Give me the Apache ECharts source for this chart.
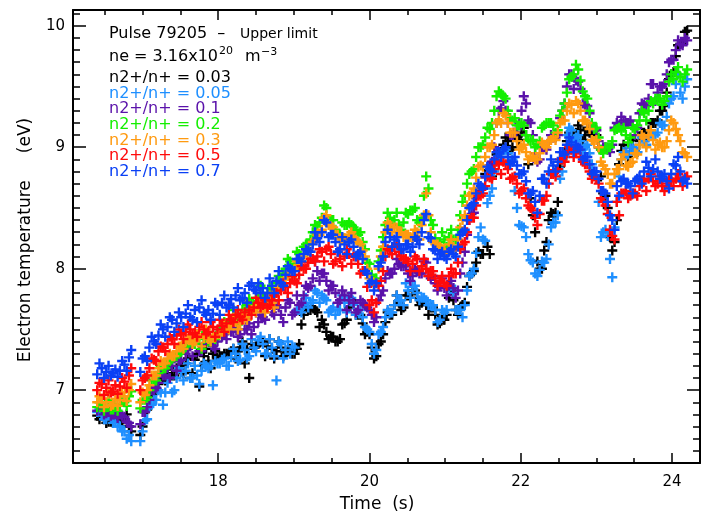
<!DOCTYPE html>
<html>
<head>
<meta charset="utf-8">
<script src="https://cdn.jsdelivr.net/npm/echarts@6/dist/echarts.min.js"></script>
<style>
  html, body { margin: 0; padding: 0; background: #fff; }
  #chart { width: 703px; height: 519px; }
</style>
</head>
<body>
<div id="chart"></div>
<script>
  // time base of sweep 1 (s)
  const times = [
    16.40, 16.46, 16.52, 16.58, 16.64, 16.70, 16.76, 16.82,
    16.97, 17.03, 17.09, 17.15, 17.21, 17.27, 17.33, 17.39, 17.45, 17.51,
    17.57, 17.63, 17.69, 17.75, 17.81, 17.87, 17.93, 17.99, 18.05, 18.11,
    18.17, 18.23, 18.29, 18.35, 18.41, 18.47, 18.53, 18.59, 18.65, 18.71,
    18.77, 18.83, 18.89, 18.95, 19.01, 19.07, 19.13, 19.19, 19.25, 19.31,
    19.37, 19.43, 19.49, 19.55, 19.61, 19.67, 19.73, 19.79, 19.85, 19.91,
    19.97, 20.03, 20.09, 20.15, 20.21, 20.27, 20.33, 20.39, 20.45, 20.51,
    20.57, 20.63, 20.69, 20.75, 20.81, 20.87, 20.93, 20.99, 21.05, 21.11,
    21.17, 21.23, 21.29, 21.35, 21.41, 21.47, 21.53, 21.59, 21.65, 21.71,
    21.77, 21.83, 21.89, 21.95, 22.01, 22.07, 22.13, 22.19, 22.25, 22.31,
    22.37, 22.43, 22.49, 22.55, 22.61, 22.67, 22.73, 22.79, 22.85, 22.91,
    22.97, 23.03, 23.09, 23.15, 23.21, 23.27, 23.33, 23.39, 23.45, 23.51,
    23.57, 23.63, 23.69, 23.75, 23.81, 23.87, 23.93, 23.99, 24.05, 24.11,
    24.17
  ];
  // time base of sweep 2 (s)
  const timesB = [
    16.43, 16.49, 16.55, 16.61, 16.67, 16.73, 16.79, 16.85,
    17.00, 17.06, 17.12, 17.18, 17.24, 17.30, 17.36, 17.42, 17.48, 17.54,
    17.60, 17.66, 17.72, 17.78, 17.84, 17.90, 17.96, 18.02, 18.08, 18.14,
    18.20, 18.26, 18.32, 18.38, 18.44, 18.50, 18.56, 18.62, 18.68, 18.74,
    18.80, 18.86, 18.92, 18.98, 19.04, 19.10, 19.16, 19.22, 19.28, 19.34,
    19.40, 19.46, 19.52, 19.58, 19.64, 19.70, 19.76, 19.82, 19.88, 19.94,
    20.00, 20.06, 20.12, 20.18, 20.24, 20.30, 20.36, 20.42, 20.48, 20.54,
    20.60, 20.66, 20.72, 20.78, 20.84, 20.90, 20.96, 21.02, 21.08, 21.14,
    21.20, 21.26, 21.32, 21.38, 21.44, 21.50, 21.56, 21.62, 21.68, 21.74,
    21.80, 21.86, 21.92, 21.98, 22.04, 22.10, 22.16, 22.22, 22.28, 22.34,
    22.40, 22.46, 22.52, 22.58, 22.64, 22.70, 22.76, 22.82, 22.88, 22.94,
    23.00, 23.06, 23.12, 23.18, 23.24, 23.30, 23.36, 23.42, 23.48, 23.54,
    23.60, 23.66, 23.72, 23.78, 23.84, 23.90, 23.96, 24.02, 24.08, 24.14,
    24.20
  ];

  // n2+/n+ ratios (legend)
  const ratios = ['0.03', '0.05', '0.1', '0.2', '0.3', '0.5', '0.7'];

  // electron temperature (eV), sweep 1
  const te003 = [
    6.79, 6.80, 6.73, 6.74, 6.77, 6.75, 6.76, 6.70,
    6.63, 6.82, 6.92, 6.98, 7.05, 7.10, 7.14, 7.12, 7.18, 7.20,
    7.22, 7.10, 7.25, 7.03, 7.28, 7.24, 7.30, 7.26, 7.28, 7.30,
    7.32, 7.26, 7.35, 7.22, 7.10, 7.35, 7.38, 7.40, 7.36, 7.34,
    7.32, 7.35, 7.30, 7.34, 7.30, 7.38, 7.62, 7.66, 7.68, 7.64,
    7.58, 7.48, 7.44, 7.40, 7.42, 7.55, 7.68, 7.72, 7.62, 7.55,
    7.48, 7.35, 7.28, 7.40, 7.56, 7.62, 7.70, 7.72, 7.68, 7.78,
    7.82, 7.76, 7.72, 7.70, 7.68, 7.62, 7.55, 7.58, 7.76, 7.74,
    7.62, 7.70, 7.85, 7.96, 8.05, 8.12, 8.78, 8.12, 8.82, 8.95,
    9.02, 9.05, 9.00, 9.08, 9.12, 9.10, 8.58, 8.30, 8.00, 8.15,
    8.40, 8.45, 8.55, 8.90, 9.05, 9.10, 9.12, 9.14, 9.10, 9.12,
    9.14, 9.00, 8.62, 8.50, 8.15, 8.40, 8.97, 8.95, 9.00, 8.98,
    9.05, 9.12, 9.14, 9.20, 9.22, 9.30, 9.45, 9.60, 9.75, 9.85,
    9.95
  ];
  const te005 = [
    6.82, 6.79, 6.76, 6.78, 6.74, 6.70, 6.66, 6.63,
    6.58, 6.75, 6.86, 6.92, 7.00, 6.88, 7.06, 6.98, 7.10, 7.15,
    7.16, 7.10, 7.20, 7.05, 7.22, 7.18, 7.04, 7.22, 7.25, 7.20,
    7.27, 7.30, 7.25, 7.33, 7.28, 7.35, 7.41, 7.38, 7.30, 7.35,
    7.08, 7.38, 7.33, 7.30, 7.35, 7.66, 7.70, 7.68, 7.74, 7.80,
    7.78, 7.74, 7.66, 7.62, 7.66, 7.72, 7.77, 7.70, 7.66, 7.60,
    7.50, 7.38, 7.33, 7.48, 7.60, 7.64, 7.70, 7.74, 7.70, 7.82,
    7.85, 7.80, 7.76, 7.74, 7.70, 7.66, 7.58, 7.64, 7.85, 7.80,
    7.66, 7.60, 7.82, 7.96, 8.13, 8.34, 8.23, 8.60, 8.80, 8.92,
    8.98, 8.95, 8.90, 8.50, 8.35, 8.26, 8.07, 7.96, 7.99, 8.05,
    8.20, 8.38, 8.44, 8.80, 9.10, 9.14, 9.08, 9.05, 9.00, 8.95,
    8.80, 8.55, 8.30, 8.27, 7.93, 8.55, 8.90, 8.95, 9.00, 8.98,
    9.02, 9.05, 9.08, 9.10, 9.12, 9.18, 9.25, 9.40, 9.52, 9.45,
    9.50
  ];
  const te01 = [
    6.83, 6.85, 6.81, 6.79, 6.81, 6.80, 6.78, 6.73,
    6.72, 6.82, 6.92, 7.00, 7.06, 7.12, 7.18, 7.20, 7.16, 7.25,
    7.30, 7.36, 7.40, 7.32, 7.38, 7.42, 7.36, 7.40, 7.44, 7.42,
    7.48, 7.52, 7.46, 7.50, 7.55, 7.52, 7.56, 7.60, 7.68, 7.64,
    7.70, 7.62, 7.68, 7.72, 7.64, 7.70, 7.78, 7.84, 7.92, 7.98,
    7.96, 7.90, 7.86, 7.80, 7.74, 7.78, 7.74, 7.72, 7.66, 7.72,
    7.68, 7.62, 7.60, 7.78, 7.92, 7.96, 8.00, 8.04, 8.02, 7.96,
    7.94, 7.98, 7.96, 8.05, 7.92, 7.88, 7.86, 7.84, 7.86, 7.84,
    7.82, 8.05, 8.28, 8.45, 8.58, 8.65, 8.75, 8.85, 9.00, 9.30,
    9.38, 9.20, 9.10, 9.15, 9.30, 9.36, 9.20, 8.95, 8.90, 9.00,
    9.05, 9.08, 9.10, 9.30, 9.50, 9.60, 9.55, 9.48, 9.35, 9.28,
    9.15, 9.05, 9.00, 8.98, 9.02, 9.20, 9.25, 9.20, 9.22, 9.10,
    9.28, 9.35, 9.40, 9.52, 9.45, 9.50, 9.60, 9.72, 9.80, 9.85,
    9.90
  ];
  const te02 = [
    6.86, 6.89, 6.86, 6.84, 6.88, 6.88, 6.90, 6.95,
    6.85, 6.92, 7.00, 7.08, 7.14, 7.18, 7.22, 7.26, 7.28, 7.32,
    7.36, 7.40, 7.38, 7.43, 7.42, 7.40, 7.44, 7.46, 7.50, 7.55,
    7.58, 7.60, 7.58, 7.65, 7.75, 7.70, 7.76, 7.80, 7.76, 7.82,
    7.88, 7.92, 8.00, 8.06, 8.04, 8.12, 8.18, 8.20, 8.30, 8.35,
    8.42, 8.50, 8.40, 8.32, 8.28, 8.36, 8.38, 8.34, 8.28, 8.22,
    8.05, 7.95, 7.92, 8.15, 8.36, 8.42, 8.40, 8.36, 8.38, 8.45,
    8.48, 8.40, 8.42, 8.76, 8.40, 8.25, 8.22, 8.24, 8.26, 8.24,
    8.32, 8.55, 8.70, 8.80, 8.92, 9.00, 9.08, 9.15, 9.30, 9.46,
    9.42, 9.30, 9.22, 9.18, 9.20, 9.10, 9.05, 9.00, 9.05, 9.18,
    9.20, 9.18, 9.14, 9.30, 9.45, 9.58, 9.68, 9.55, 9.42, 9.30,
    9.15, 9.08, 8.95, 9.00, 9.05, 9.15, 9.14, 9.10, 9.08, 9.15,
    9.22, 9.28, 9.30, 9.36, 9.40, 9.35, 9.42, 9.60, 9.62, 9.58,
    9.60
  ];
  const te03 = [
    6.90, 6.93, 6.90, 6.87, 6.93, 6.92, 6.95, 7.00,
    6.90, 6.96, 7.04, 7.12, 7.18, 7.22, 7.26, 7.28, 7.32, 7.36,
    7.40, 7.42, 7.40, 7.45, 7.43, 7.42, 7.45, 7.46, 7.48, 7.52,
    7.54, 7.56, 7.55, 7.60, 7.63, 7.66, 7.70, 7.68, 7.67, 7.72,
    7.82, 7.85, 7.92, 7.98, 8.00, 8.06, 8.10, 8.15, 8.22, 8.28,
    8.32, 8.44, 8.35, 8.28, 8.22, 8.25, 8.28, 8.26, 8.22, 8.15,
    8.00, 7.90, 7.88, 8.10, 8.30, 8.36, 8.34, 8.30, 8.26, 8.28,
    8.25, 8.30, 8.36, 8.62, 8.30, 8.20, 8.18, 8.16, 8.20, 8.18,
    8.24, 8.40, 8.52, 8.62, 8.75, 8.85, 8.92, 9.00, 9.10, 9.22,
    9.28, 9.20, 9.12, 9.05, 9.00, 8.96, 8.92, 8.90, 8.95, 9.02,
    9.05, 9.08, 9.12, 9.22, 9.30, 9.35, 9.38, 9.30, 9.22, 9.15,
    9.05, 9.00, 8.85, 8.78, 8.70, 8.82, 8.90, 8.85, 8.87, 8.95,
    9.02, 9.08, 9.10, 9.06, 9.02, 9.00, 9.05, 9.22, 9.15, 9.05,
    8.95
  ];
  const te05 = [
    7.00, 7.05, 7.02, 6.98, 7.04, 7.03, 7.07, 7.12,
    7.00, 7.10, 7.18, 7.25, 7.32, 7.35, 7.38, 7.42, 7.45, 7.46,
    7.48, 7.50, 7.47, 7.52, 7.50, 7.48, 7.52, 7.50, 7.53, 7.55,
    7.58, 7.62, 7.60, 7.64, 7.66, 7.68, 7.72, 7.70, 7.68, 7.74,
    7.80, 7.82, 7.85, 7.88, 7.90, 7.95, 8.00, 8.05, 8.08, 8.10,
    8.14, 8.16, 8.12, 8.06, 8.08, 8.10, 8.12, 8.10, 8.04, 7.98,
    7.85, 7.74, 7.72, 7.90, 8.10, 8.15, 8.18, 8.14, 8.08, 8.06,
    8.04, 8.08, 8.02, 8.00, 7.98, 7.92, 7.90, 7.88, 7.94, 7.96,
    8.05, 8.20, 8.30, 8.42, 8.52, 8.60, 8.68, 8.75, 8.82, 8.86,
    8.88, 8.82, 8.75, 8.70, 8.64, 8.58, 8.50, 8.42, 8.45, 8.56,
    8.70, 8.78, 8.82, 8.90, 8.95, 8.98, 8.96, 8.92, 8.86, 8.80,
    8.76, 8.70, 8.55, 8.45, 8.27, 8.55, 8.62, 8.64, 8.60, 8.62,
    8.68, 8.72, 8.74, 8.72, 8.70, 8.68, 8.70, 8.72, 8.74, 8.72,
    8.75
  ];
  const te07 = [
    7.13, 7.18, 7.15, 7.12, 7.17, 7.16, 7.21, 7.27,
    7.15, 7.28, 7.35, 7.40, 7.45, 7.50, 7.52, 7.58, 7.55, 7.60,
    7.63, 7.60, 7.66, 7.68, 7.64, 7.66, 7.63, 7.70, 7.72, 7.68,
    7.75, 7.78, 7.74, 7.80, 7.86, 7.83, 7.88, 7.84, 7.80, 7.86,
    7.90, 7.88, 7.95, 8.00, 7.98, 8.08, 8.12, 8.15, 8.20, 8.25,
    8.30, 8.38, 8.28, 8.22, 8.16, 8.20, 8.22, 8.18, 8.12, 8.08,
    7.96, 7.90, 7.88, 8.05, 8.22, 8.26, 8.24, 8.20, 8.16, 8.20,
    8.18, 8.24, 8.30, 8.45, 8.25, 8.15, 8.12, 8.10, 8.14, 8.12,
    8.18, 8.30, 8.40, 8.52, 8.62, 8.68, 8.76, 8.82, 8.90, 8.96,
    8.98, 8.92, 8.88, 8.85, 8.78, 8.72, 8.62, 8.55, 8.60, 8.74,
    8.80, 8.85, 8.88, 8.96, 9.02, 9.04, 9.02, 8.98, 8.92, 8.86,
    8.80, 8.74, 8.64, 8.55, 8.40, 8.68, 8.72, 8.70, 8.68, 8.72,
    8.76, 8.80, 8.83, 8.82, 8.80, 8.76, 8.72, 8.78, 8.85, 8.80,
    8.74
  ];

  // electron temperature (eV), sweep 2
  const te003b = [
    6.76, 6.76, 6.74, 6.73, 6.76, 6.70, 6.80, 6.66,
    6.70, 6.84, 6.98, 7.00, 7.12, 7.08, 7.20, 7.12, 7.24, 7.14,
    7.26, 7.14, 7.30, 7.20, 7.34, 7.18, 7.32, 7.28, 7.30, 7.30,
    7.34, 7.32, 7.40, 7.34, 7.38, 7.36, 7.40, 7.28, 7.42, 7.26,
    7.40, 7.28, 7.32, 7.30, 7.34, 7.54, 7.68, 7.66, 7.66, 7.52,
    7.54, 7.42, 7.44, 7.40, 7.54, 7.58, 7.74, 7.62, 7.62, 7.46,
    7.46, 7.26, 7.38, 7.46, 7.64, 7.62, 7.78, 7.66, 7.78, 7.76,
    7.82, 7.70, 7.74, 7.62, 7.68, 7.54, 7.60, 7.62, 7.82, 7.66,
    7.68, 7.72, 7.94, 7.98, 8.14, 8.12, 8.18, 8.76, 8.94, 8.96,
    9.08, 8.98, 9.10, 9.06, 9.16, 8.86, 8.44, 8.06, 8.00, 8.22,
    8.46, 8.46, 8.84, 8.96, 9.12, 9.08, 9.18, 9.06, 9.16, 9.10,
    9.10, 8.76, 8.60, 8.26, 8.22, 8.86, 9.02, 8.92, 9.06, 8.96,
    9.12, 9.10, 9.20, 9.20, 9.30, 9.34, 9.56, 9.62, 9.84, 9.86,
    9.96
  ];
  const te005b = [
    6.84, 6.76, 6.82, 6.73, 6.70, 6.66, 6.60, 6.58,
    6.66, 6.76, 6.88, 6.92, 6.98, 6.98, 7.10, 7.00, 7.18, 7.08,
    7.22, 7.10, 7.12, 7.16, 7.20, 7.20, 7.24, 7.22, 7.26, 7.20,
    7.34, 7.24, 7.38, 7.26, 7.42, 7.32, 7.44, 7.30, 7.42, 7.28,
    7.40, 7.26, 7.40, 7.36, 7.66, 7.64, 7.76, 7.72, 7.82, 7.72,
    7.76, 7.64, 7.68, 7.66, 7.78, 7.64, 7.76, 7.62, 7.66, 7.52,
    7.48, 7.30, 7.46, 7.52, 7.66, 7.64, 7.78, 7.74, 7.88, 7.76,
    7.86, 7.74, 7.76, 7.70, 7.70, 7.56, 7.66, 7.66, 7.86, 7.66,
    7.66, 7.70, 7.94, 8.00, 8.26, 8.24, 8.54, 8.66, 8.90, 8.92,
    8.98, 8.88, 8.64, 8.36, 8.34, 8.12, 8.05, 7.94, 8.06, 8.08,
    8.34, 8.38, 8.74, 8.92, 9.16, 9.06, 9.10, 8.98, 9.02, 8.86,
    8.74, 8.26, 8.32, 8.08, 8.34, 8.76, 8.96, 8.94, 9.00, 8.96,
    9.08, 9.02, 9.14, 9.10, 9.20, 9.18, 9.36, 9.42, 9.60, 9.40,
    9.56
  ];
  const te01b = [
    6.86, 6.80, 6.82, 6.80, 6.77, 6.79, 6.74, 6.70,
    6.82, 6.86, 7.00, 7.02, 7.14, 7.12, 7.10, 7.26, 7.24, 7.38,
    7.34, 7.28, 7.46, 7.32, 7.44, 7.40, 7.34, 7.48, 7.46, 7.50,
    7.48, 7.44, 7.60, 7.50, 7.46, 7.64, 7.62, 7.58, 7.74, 7.62,
    7.68, 7.56, 7.74, 7.62, 7.78, 7.72, 7.86, 7.86, 8.06, 7.90,
    7.96, 7.82, 7.86, 7.72, 7.82, 7.66, 7.80, 7.64, 7.74, 7.70,
    7.66, 7.56, 7.74, 7.82, 7.98, 7.96, 8.08, 8.02, 8.02, 7.90,
    8.00, 7.96, 8.06, 7.94, 7.94, 7.82, 7.92, 7.78, 7.90, 7.76,
    7.96, 8.14, 8.40, 8.46, 8.66, 8.66, 8.84, 8.88, 9.20, 9.32,
    9.30, 9.10, 9.12, 9.20, 9.42, 9.22, 9.10, 8.88, 9.00, 8.98,
    9.10, 9.08, 9.24, 9.36, 9.60, 9.48, 9.54, 9.36, 9.34, 9.18,
    9.14, 8.98, 9.00, 8.96, 9.16, 9.18, 9.22, 9.20, 9.18, 9.16,
    9.36, 9.34, 9.52, 9.38, 9.50, 9.52, 9.70, 9.72, 9.88, 9.84,
    9.88
  ];
  const te02b = [
    6.90, 6.83, 6.92, 6.84, 6.83, 6.93, 6.87, 6.99,
    6.92, 6.94, 7.08, 7.08, 7.20, 7.18, 7.24, 7.28, 7.30, 7.34,
    7.38, 7.38, 7.44, 7.34, 7.48, 7.40, 7.42, 7.48, 7.56, 7.54,
    7.66, 7.54, 7.66, 7.70, 7.72, 7.76, 7.86, 7.72, 7.84, 7.78,
    7.94, 7.96, 8.08, 8.00, 8.14, 8.06, 8.20, 8.24, 8.36, 8.38,
    8.52, 8.40, 8.40, 8.28, 8.38, 8.36, 8.36, 8.32, 8.30, 8.16,
    8.04, 7.90, 8.06, 8.26, 8.46, 8.36, 8.46, 8.32, 8.46, 8.48,
    8.50, 8.38, 8.60, 8.66, 8.36, 8.22, 8.30, 8.18, 8.32, 8.24,
    8.44, 8.60, 8.78, 8.82, 9.00, 9.02, 9.16, 9.20, 9.42, 9.44,
    9.40, 9.24, 9.24, 9.18, 9.18, 9.06, 9.06, 9.02, 9.16, 9.20,
    9.20, 9.12, 9.26, 9.36, 9.56, 9.60, 9.64, 9.46, 9.40, 9.20,
    9.16, 8.98, 9.00, 9.00, 9.14, 9.16, 9.16, 9.04, 9.16, 9.18,
    9.30, 9.22, 9.38, 9.40, 9.40, 9.38, 9.54, 9.56, 9.66, 9.54,
    9.64
  ];
  const te03b = [
    6.95, 6.86, 6.97, 6.88, 6.87, 6.98, 6.91, 7.05,
    6.98, 7.00, 7.12, 7.12, 7.24, 7.22, 7.30, 7.28, 7.36, 7.34,
    7.42, 7.38, 7.46, 7.36, 7.50, 7.40, 7.44, 7.46, 7.54, 7.50,
    7.60, 7.50, 7.62, 7.58, 7.66, 7.64, 7.76, 7.64, 7.78, 7.68,
    7.84, 7.86, 7.94, 7.92, 8.06, 8.02, 8.16, 8.14, 8.24, 8.28,
    8.42, 8.36, 8.34, 8.28, 8.24, 8.24, 8.30, 8.24, 8.20, 8.10,
    7.92, 7.86, 8.00, 8.18, 8.38, 8.30, 8.34, 8.30, 8.28, 8.26,
    8.32, 8.24, 8.44, 8.44, 8.22, 8.20, 8.16, 8.12, 8.24, 8.16,
    8.34, 8.44, 8.60, 8.66, 8.84, 8.84, 9.00, 9.02, 9.20, 9.20,
    9.26, 9.12, 9.12, 8.98, 9.02, 8.90, 8.92, 8.90, 9.04, 9.00,
    9.06, 9.06, 9.20, 9.22, 9.36, 9.28, 9.36, 9.22, 9.20, 9.06,
    9.06, 8.88, 8.82, 8.70, 8.78, 8.82, 8.94, 8.84, 8.88, 8.94,
    9.10, 9.00, 9.14, 8.98, 9.04, 9.00, 9.14, 9.20, 9.10, 8.96,
    8.92
  ];
  const te05b = [
    7.06, 6.96, 7.08, 6.99, 6.97, 7.10, 7.02, 7.18,
    7.08, 7.12, 7.26, 7.24, 7.36, 7.32, 7.44, 7.38, 7.50, 7.42,
    7.54, 7.46, 7.44, 7.56, 7.46, 7.56, 7.44, 7.58, 7.48, 7.62,
    7.56, 7.66, 7.58, 7.72, 7.62, 7.76, 7.68, 7.74, 7.70, 7.78,
    7.74, 7.88, 7.80, 7.94, 7.88, 8.02, 8.00, 8.08, 8.06, 8.16,
    8.06, 8.18, 8.04, 8.14, 8.02, 8.16, 8.04, 8.10, 7.96, 7.98,
    7.70, 7.64, 7.86, 7.98, 8.16, 8.12, 8.20, 8.10, 8.08, 7.98,
    8.10, 7.98, 8.08, 7.94, 7.98, 7.86, 7.94, 7.86, 8.00, 7.96,
    8.16, 8.22, 8.40, 8.42, 8.60, 8.62, 8.76, 8.74, 8.88, 8.78,
    8.86, 8.74, 8.76, 8.62, 8.66, 8.52, 8.48, 8.36, 8.56, 8.60,
    8.78, 8.76, 8.90, 8.88, 9.00, 8.92, 8.98, 8.88, 8.86, 8.74,
    8.74, 8.58, 8.52, 8.32, 8.24, 8.44, 8.62, 8.58, 8.62, 8.60,
    8.72, 8.64, 8.78, 8.68, 8.76, 8.64, 8.74, 8.68, 8.78, 8.68,
    8.76
  ];
  const te07b = [
    7.22, 7.10, 7.20, 7.14, 7.11, 7.24, 7.16, 7.33,
    7.26, 7.24, 7.44, 7.38, 7.54, 7.44, 7.60, 7.48, 7.64, 7.52,
    7.70, 7.58, 7.56, 7.74, 7.62, 7.58, 7.72, 7.62, 7.78, 7.70,
    7.68, 7.84, 7.76, 7.72, 7.88, 7.82, 7.80, 7.76, 7.92, 7.80,
    7.98, 7.86, 8.02, 7.98, 8.08, 8.06, 8.16, 8.14, 8.30, 8.22,
    8.40, 8.26, 8.28, 8.14, 8.26, 8.12, 8.24, 8.10, 8.14, 7.98,
    7.88, 7.82, 8.02, 8.10, 8.32, 8.18, 8.26, 8.16, 8.20, 8.14,
    8.26, 8.20, 8.40, 8.26, 8.16, 8.08, 8.14, 8.08, 8.16, 8.10,
    8.28, 8.32, 8.50, 8.54, 8.70, 8.66, 8.84, 8.80, 8.96, 8.92,
    9.00, 8.86, 8.92, 8.78, 8.80, 8.62, 8.64, 8.46, 8.74, 8.70,
    8.90, 8.80, 8.96, 8.94, 9.08, 8.96, 9.00, 8.90, 8.92, 8.78,
    8.80, 8.64, 8.62, 8.44, 8.32, 8.60, 8.74, 8.70, 8.62, 8.74,
    8.70, 8.88, 8.76, 8.90, 8.74, 8.78, 8.66, 8.86, 8.92, 8.72,
    8.70
  ];

  const sweep1 = [te003, te005, te01, te02, te03, te05, te07];
  const sweep2 = [te003b, te005b, te01b, te02b, te03b, te05b, te07b];
  const colors = ['#000000', '#1e8fff', '#5a12aa', '#14ee00', '#ff9a10', '#ff0a0a', '#0a40f5'];

  const FONT = 'DejaVu Sans';
  // "+" plot symbol
  const plus = 'path://M3.8,0H6.2V3.8H10V6.2H6.2V10H3.8V6.2H0V3.8H3.8Z';

  const charts = echarts.init(document.getElementById('chart'), null, { renderer: 'canvas' });

  const tick = { show: true, inside: true, lineStyle: { color: '#000', width: 1.5 } };
  const line = { show: true, onZero: false, lineStyle: { color: '#000', width: 2 } };

  function xAxis(pos, withLabels) {
    return {
      type: 'value', position: pos, min: 16.08, max: 24.37,
      axisLine: line,
      axisTick: Object.assign({}, tick, { length: 10 }),
      minorTick: { show: true, splitNumber: 4, length: 5, lineStyle: { color: '#000', width: 1.5 } },
      splitLine: { show: false },
      axisLabel: {
        show: withLabels, margin: 12, color: '#000', fontFamily: FONT, fontSize: 15,
        formatter: v => (Math.abs(v % 2) < 1e-6 ? String(v) : '')
      }
    };
  }
  function yAxis(pos, withLabels) {
    return {
      type: 'value', position: pos, min: 6.4, max: 10.13,
      axisLine: line,
      axisTick: Object.assign({}, tick, { length: 13 }),
      minorTick: { show: true, splitNumber: 10, length: 7, lineStyle: { color: '#000', width: 1.5 } },
      splitLine: { show: false },
      axisLabel: {
        show: withLabels, margin: 8, color: '#000', fontFamily: FONT, fontSize: 15,
        formatter: v => (Math.abs(v - Math.round(v)) < 1e-6 ? String(Math.round(v)) : '')
      }
    };
  }

  const txt = (x, y, text, size, fill) => ({
    type: 'text', x: x, y: y,
    style: { text: text, font: size + 'px "DejaVu Sans"', fill: fill || '#000', verticalAlign: 'middle' }
  });

  // axis titles and legend block
  const graphic = [
    { type: 'text', x: 377, y: 505,
      style: { text: 'Time  (s)', font: '17px "DejaVu Sans"', fill: '#000', align: 'center', verticalAlign: 'middle' } },
    { type: 'text', x: 26, y: 240, rotation: Math.PI / 2,
      style: { text: 'Electron temperature     (eV)', font: '17px "DejaVu Sans"', fill: '#000', align: 'center', verticalAlign: 'middle' } },
    txt(109, 34, 'Pulse 79205  \u2013', 16),
    txt(240, 34, 'Upper limit', 14),
    txt(109, 57, 'ne = 3.16x10', 16),
    txt(219, 51, '20', 11),
    txt(245, 57, 'm', 16),
    txt(261, 52, '\u22123', 11)
  ];
  ratios.forEach((r, i) => {
    graphic.push(txt(109, 78 + i * 15.6, 'n2+/n+ = ' + r, 16, colors[i]));
  });

  charts.setOption({
    animation: false,
    backgroundColor: '#fff',
    grid: { left: 73, right: 2, top: 10, bottom: 56, containLabel: false },
    xAxis: [xAxis('bottom', true), xAxis('top', false)],
    yAxis: [yAxis('left', true), yAxis('right', false)],
    graphic: graphic,
    series: sweep1.map((vals, i) => ({
      name: 'n2+/n+ = ' + ratios[i],
      type: 'scatter',
      xAxisIndex: 0, yAxisIndex: 0,
      symbol: plus, symbolSize: 10,
      itemStyle: { color: colors[i], opacity: 1 },
      silent: true,
      data: times.map((t, j) => [t, vals[j]])
        .concat(timesB.map((t, j) => [t, sweep2[i][j]]))
    }))
  });
</script>
</body>
</html>
